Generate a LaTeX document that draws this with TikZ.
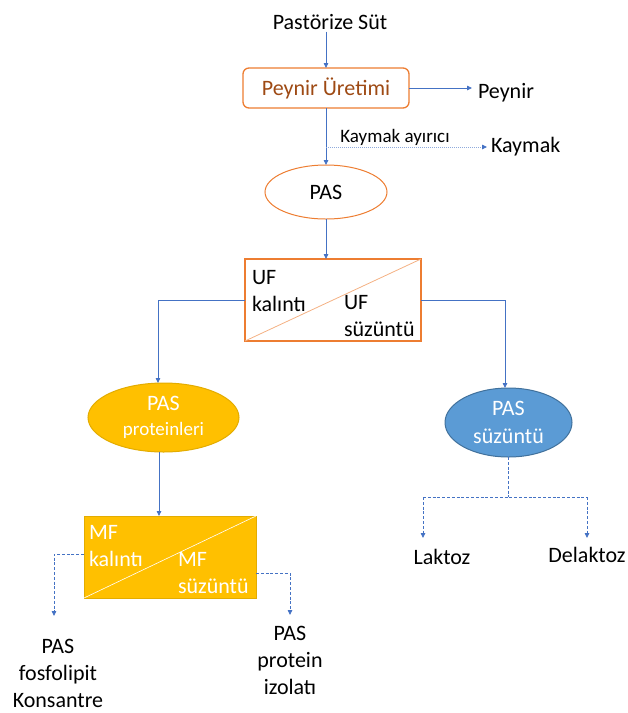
\documentclass[tikz,border=0pt]{standalone}
\usepackage{fontspec}
\setmainfont{Carlito}
\usetikzlibrary{arrows.meta,shapes.geometric}
\definecolor{orng}{HTML}{ED7D31}
\definecolor{orngl}{HTML}{F4B183}
\definecolor{brn}{HTML}{9E4A14}
\definecolor{lnblue}{HTML}{4472C4}
\definecolor{lnbluel}{HTML}{8FAADC}
\definecolor{gold}{HTML}{FFC000}
\definecolor{goldd}{HTML}{E3AC00}
\definecolor{sky}{HTML}{5B9BD5}
\definecolor{skyd}{HTML}{41719C}
\begin{document}
\begin{tikzpicture}[x=1pt,y=-1pt,
  every node/.style={inner sep=2pt, outer sep=0pt},
  txt/.style={font=\fontsize{22}{27}\selectfont, text=black},
  smalltxt/.style={font=\fontsize{19}{23}\selectfont, text=black},
  wtxt/.style={font=\fontsize{22}{27}\selectfont, text=white},
  tip/.style={-{Triangle[length=5pt,width=4.5pt]}},
  conn/.style={draw=lnblue, line width=0.8pt, tip},
  dotconn/.style={draw=lnbluel, line width=0.8pt, dash pattern=on 1pt off 1pt, -{Triangle[length=5pt,width=4.5pt,color=lnblue]}},
  dsh/.style={draw=lnblue, line width=0.8pt, dash pattern=on 3pt off 1.8pt},
  dshconn/.style={dsh, tip},
  pbox/.style={draw=orng, line width=1.3pt, rounded corners=6pt, minimum width=166pt, minimum height=40pt, text=brn, font=\fontsize{22}{27}\selectfont},
  ell/.style={ellipse, inner sep=0pt},
  sqbox/.style={rectangle, inner sep=0pt}
]
\useasboundingbox (0,0) rectangle (628,713);

% top
\node[txt] (src) at (330,22) {Pastörize Süt};
\node[pbox] (prod) at (326,88) {Peynir Üretimi};
\node[txt,anchor=west] (peynir) at (476,93) {Peynir};
\node[smalltxt] (ayirici) at (395,137) {Kaymak ayırıcı};
\node[txt,anchor=west] (kaymak) at (489,147) {Kaymak};
\coordinate (kj) at (326,147);
\node[ell, draw=orng, line width=1pt, minimum width=122pt, minimum height=54pt, txt] (pas) at (326,192) {PAS};

% UF box
\node[sqbox, draw=orng, line width=1.3pt, minimum width=176pt, minimum height=82pt] (uf) at (333,300) {};
\draw[orngl, line width=0.8pt] (uf.south west) -- (uf.north east);
\node[txt, align=left, anchor=west] (ufk) at (250,291.5) {UF\\kalıntı};
\node[txt, align=left, anchor=west] (ufs) at (342,316.5) {UF\\süzüntü};

% ellipses second level
\node[ell, fill=gold, draw=goldd, line width=1pt, minimum width=151pt, minimum height=69pt, align=center, text=white, font=\fontsize{22}{25}\selectfont] (pp) at (163.5,417.5) {PAS\\{\fontsize{19}{25}\selectfont proteinleri}};
\node[ell, fill=sky, draw=skyd, line width=1pt, minimum width=127pt, minimum height=69pt, align=center, text=white, font=\fontsize{22}{28}\selectfont] (ps) at (508.5,422.5) {PAS\\süzüntü};

% MF box
\node[sqbox, fill=gold, draw=goldd, line width=1pt, minimum width=172pt, minimum height=82pt] (mf) at (170,557) {};
\draw[white, line width=0.6pt] (mf.south west) -- (mf.north east);
\node[wtxt, align=left, anchor=west] (mfk) at (87,546) {MF\\kalıntı};
\node[wtxt, align=left, anchor=west] (mfs) at (176,573.5) {MF\\süzüntü};

% end labels
\node[txt] (laktoz) at (442,557) {Laktoz};
\node[txt] (delaktoz) at (587,555) {Delaktoz};
\node[txt, align=center, inner sep=0pt] (fos) at (58,673) {PAS\\fosfolipit\\Konsantre};
\node[txt, align=center] (izo) at (290,660) {PAS\\protein\\izolatı};

% connectors
\draw[conn] (src.south -| prod.north) -- (prod.north);
\draw[conn, shorten >=4pt] (prod.east) -- (prod.east -| peynir.west);
\draw[conn] (prod.south) -- (pas.north);
\draw[dotconn, shorten >=2pt] (kj) -- (kj -| kaymak.west);
\draw[conn] (pas.south) -- (pas.south |- uf.north);
\draw[conn] (uf.west) -| ([xshift=-5.5pt]pp.north);
\draw[conn] (uf.east) -| ([xshift=-3.5pt]ps.north);
\draw[conn] ([xshift=-4.5pt]pp.south) -- ([xshift=-4.5pt]pp.south |- mf.north);

\coordinate (sp) at (508.5,497);
\coordinate (la) at (423,497);
\coordinate (da) at (587,497);
\coordinate (lat) at (423,538);
\coordinate (dat) at (587,538);
\draw[dsh] (ps.south) -- (sp);
\draw[dsh] (la) -- (da);
\draw[dshconn] (la) -- (lat);
\draw[dshconn] (da) -- (dat);

\coordinate (fa) at (54,554);
\coordinate (fat) at (54,616);
\coordinate (ia) at (290,573);
\coordinate (iat) at (290,615);
\draw[dshconn] (mf.west |- fa) -- (fa) -- (fat);
\draw[dshconn] (mf.east |- ia) -- (ia) -- (iat);
\end{tikzpicture}
\end{document}
